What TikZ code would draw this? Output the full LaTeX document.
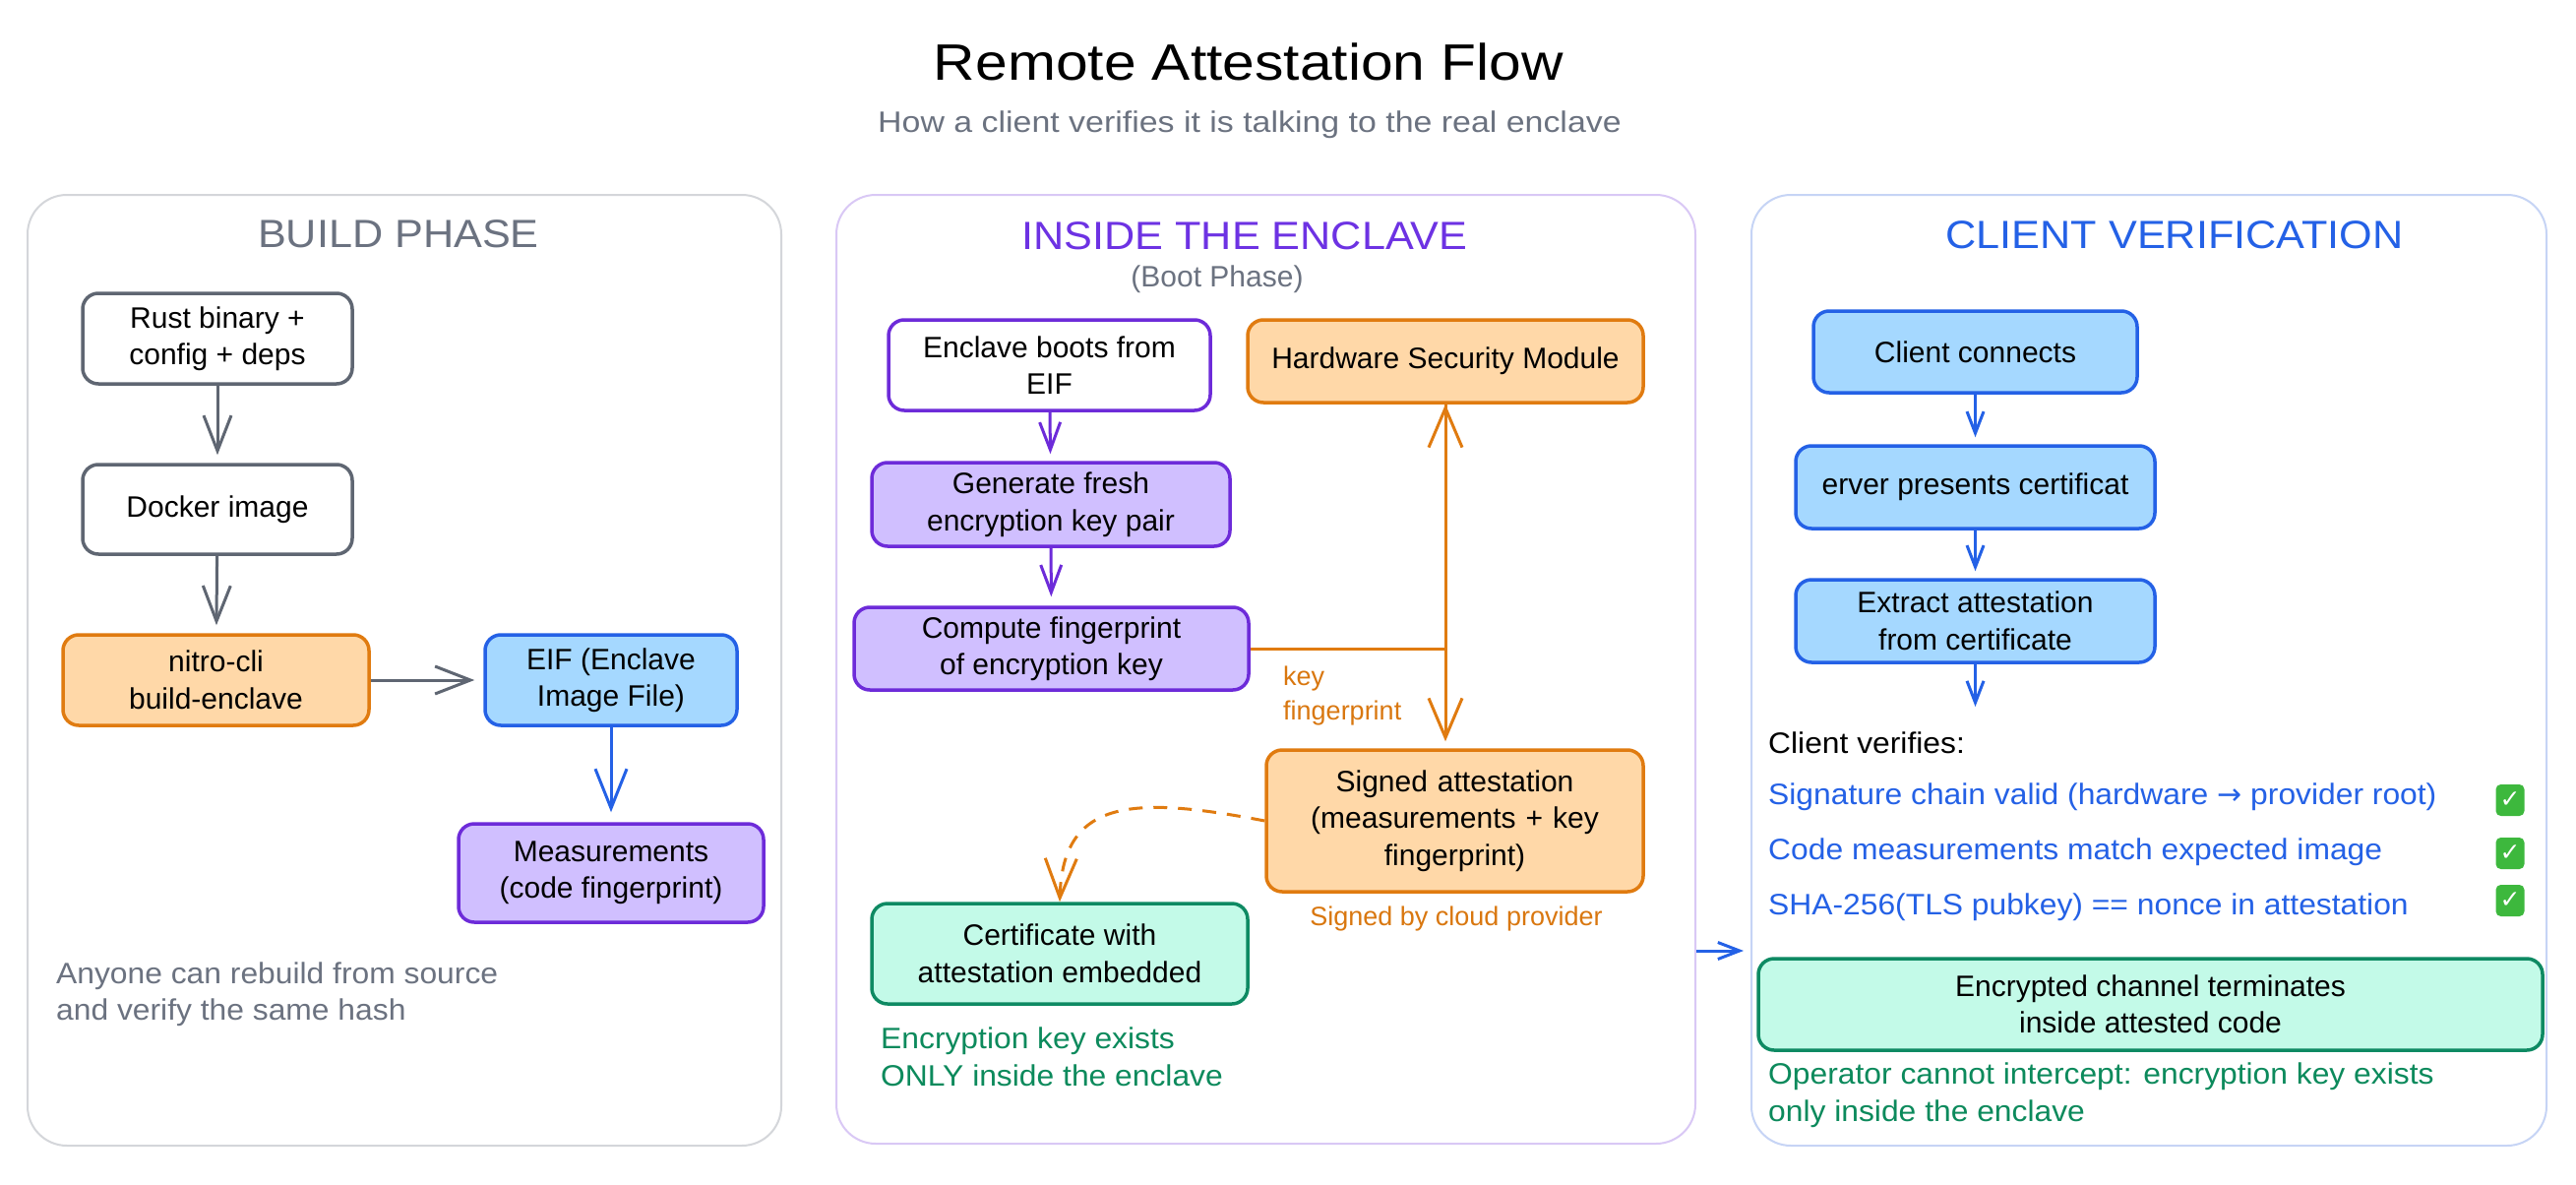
\documentclass[tikz,border=0pt]{standalone}
\usepackage{fontspec}
\setmainfont{Liberation Sans}
\newfontfamily\symfont{DejaVu Sans}
\newfontfamily\widefont[FakeStretch=1.13]{Liberation Sans}
\newfontfamily\notefont[FakeStretch=1.06]{Liberation Sans}
\newfontfamily\headfont[FakeStretch=1.08]{Liberation Sans}
\usetikzlibrary{arrows.meta,calc}
\definecolor{gborder}{HTML}{5F6672}
\definecolor{gtext}{HTML}{6B7280}
\definecolor{obord}{HTML}{E07B10}
\definecolor{ofill}{HTML}{FFD8A8}
\definecolor{bbord}{HTML}{2461E6}
\definecolor{bfill}{HTML}{A5D8FF}
\definecolor{pbord}{HTML}{6D2BD9}
\definecolor{pfill}{HTML}{D0BFFF}
\definecolor{gbord}{HTML}{0E8A63}
\definecolor{gfill}{HTML}{C3FAE8}
\definecolor{gtxt}{HTML}{0C8A5C}
\definecolor{otxt}{HTML}{D9770F}
\definecolor{pone}{HTML}{D4D6DA}
\definecolor{ptwo}{HTML}{D9C8F5}
\definecolor{pthree}{HTML}{C6D4F5}
\definecolor{ptitle}{HTML}{6D32E3}
\definecolor{btitle}{HTML}{2461E6}
\definecolor{chk}{HTML}{3DB83D}
\newcommand\bxf{\fontsize{30}{37.5}\selectfont}
\newcommand\ntf{\notefont\fontsize{30}{37.5}\selectfont}
\newcommand\smf{\fontsize{27}{35}\selectfont}
\begin{document}
\begin{tikzpicture}[x=1pt,y=-1pt,
  panel/.style={line width=2pt, rounded corners=40pt, fill=white, inner sep=0pt},
  box/.style={draw, line width=3.5pt, rounded corners=16pt, align=center, inner sep=0pt, font=\bxf, text=black},
  graybox/.style={box, draw=gborder, fill=white},
  orangebox/.style={box, draw=obord, fill=ofill},
  bluebox/.style={box, draw=bbord, fill=bfill},
  purplebox/.style={box, draw=pbord, fill=pfill},
  purplewhite/.style={box, draw=pbord, fill=white},
  greenbox/.style={box, draw=gbord, fill=gfill},
  note/.style={inner sep=0pt, align=left, font=\ntf, anchor=west},
  ptitlestyle/.style={inner sep=0pt, font=\headfont\fontsize{40}{48}\selectfont},
  chkbox/.style={fill=chk, rounded corners=5pt, minimum width=29pt, minimum height=32pt, inner sep=0pt, text=white, font=\symfont\fontsize{25}{26}\selectfont\bfseries},
  garr/.style={draw=gborder, line width=3pt, -{Straight Barb[length=36pt,width=28pt]}},
  barr/.style={draw=bbord, line width=3pt, -{Straight Barb[length=22pt,width=17pt]}},
  parr/.style={draw=pbord, line width=3pt, -{Straight Barb[length=28pt,width=21pt]}},
  oarr/.style={draw=obord, line width=3pt, -{Straight Barb[length=40pt,width=34pt]}}
]
\useasboundingbox (0,0) rectangle (2618,1204);

% panels
\node[panel, draw=pone, minimum width=766pt, minimum height=966pt] (p1) at (411,681) {};
\node[panel, draw=ptwo, minimum width=873pt, minimum height=964pt] (p2) at (1286.5,680) {};
\node[panel, draw=pthree, minimum width=808pt, minimum height=966pt] (p3) at (2184,681) {};

% titles
\node[inner sep=0pt, font=\widefont\fontsize{52}{60}\selectfont] (title) at (1269,63) {Remote Attestation Flow};
\node[inner sep=0pt, text=gtext, font=\widefont\fontsize{30}{34}\selectfont] (subtitle) at (1270,127) {How a client verifies it is talking to the real enclave};

\node[ptitlestyle, text=gtext] (t1) at (405,238) {BUILD PHASE};
\node[ptitlestyle, text=ptitle] (t2) at (1265,240) {INSIDE THE ENCLAVE};
\node[inner sep=0pt, text=gtext, font=\bxf] (t2b) at (1237,284) {(Boot Phase)};
\node[ptitlestyle, text=btitle] (t3) at (2210,239) {CLIENT VERIFICATION};

% build phase
\node[graybox, minimum width=274pt, minimum height=92pt] (rust) at (221,344) {Rust binary +\\config + deps};
\node[graybox, minimum width=274pt, minimum height=91pt] (docker) at (221,517.5) {Docker image};
\node[orangebox, minimum width=311pt, minimum height=92pt] (nitro) at (219.5,691) {nitro-cli\\build-enclave};
\node[bluebox, minimum width=256pt, minimum height=92pt] (eif) at (621,691) {EIF (Enclave\\Image File)};
\node[purplebox, minimum width=310pt, minimum height=100pt] (meas) at (621,887) {Measurements\\(code fingerprint)};
\node[note, text=gtext] (n1) at (57,1010) {Anyone can rebuild from source\\and verify the same hash};

\draw[garr, shorten >=8pt] (rust) -- (docker);
\draw[garr, shorten >=8pt] (docker) -- (nitro);
\draw[garr, shorten >=9pt] (nitro) -- (eif);
\draw[draw=bbord, line width=3pt, -{Straight Barb[length=40pt,width=32pt]}, shorten >=10pt] (eif) -- (meas);

% enclave
\node[purplewhite, minimum width=327pt, minimum height=92pt] (boots) at (1066.5,371) {Enclave boots from\\EIF};
\node[orangebox, minimum width=402pt, minimum height=84pt] (hsm) at (1469,367) {Hardware Security Module};
\node[purplebox, minimum width=364pt, minimum height=85pt] (gen) at (1068,512.5) {Generate fresh\\encryption key pair};
\node[purplebox, minimum width=401pt, minimum height=84pt] (comp) at (1068.5,659) {Compute fingerprint\\of encryption key};
\node[orangebox, minimum width=383pt, minimum height=144pt, text width=360pt] (signed) at (1478.5,834) {Signed attestation\\(measurements + key\\fingerprint)};
\node[greenbox, minimum width=382pt, minimum height=102pt] (cert) at (1077,969) {Certificate with\\attestation embedded};
\node[inner sep=0pt, align=left, anchor=west, text=otxt, font=\smf] (kf) at (1304,707) {key\\fingerprint};
\node[inner sep=0pt, text=otxt, font=\fontsize{27}{30}\selectfont] (sbc) at (1480,934) {Signed by cloud provider};
\node[note, text=gtxt] (n2) at (895,1074) {Encryption key exists\\ONLY inside the enclave};

\draw[parr, shorten >=7pt] (boots) -- (gen);
\draw[parr, shorten >=9pt] (gen) -- (comp);
\draw[oarr] (comp.east) -| (hsm.south);
\draw[oarr, shorten >=7pt] (hsm.south) -- (hsm.south |- signed.north);
\draw[draw=obord, line width=3pt, dash pattern=on 14pt off 11pt, -{Straight Barb[length=40pt,width=32pt]}]
  (signed.west) .. controls (1150,808) and (1080,812) .. (cert.north);

% client
\node[bluebox, minimum width=329pt, minimum height=83pt] (client) at (2007.5,357.5) {Client connects};
\node[bluebox, minimum width=365pt, minimum height=84pt] (server) at (2007.5,495) {erver presents certificat};
\node[bluebox, minimum width=365pt, minimum height=84pt] (extract) at (2007.5,631) {Extract attestation\\from certificate};
\coordinate (vend) at (2007.5,718);
\node[note, text=black] (cv) at (1797,755) {Client verifies:};
\node[note, text=bbord] (i1) at (1797,810) {Signature chain valid (hardware {\symfont →} provider root)};
\node[note, text=bbord] (i2) at (1797,866) {Code measurements match expected image};
\node[note, text=bbord] (i3) at (1797,922) {SHA-256(TLS pubkey) == nonce in attestation};
\node[chkbox] (c1) at (2551,813) {✓};
\node[chkbox] (c2) at (2551,867) {✓};
\node[chkbox] (c3) at (2551,915) {✓};
\node[greenbox, minimum width=797pt, minimum height=93pt] (chan) at (2185.5,1020.5) {Encrypted channel terminates\\inside attested code};
\node[note, text=gtxt] (n3) at (1797,1112.5) {Operator cannot intercept: encryption key exists\\only inside the enclave};

\draw[barr, shorten >=7pt] (client) -- (server);
\draw[barr, shorten >=7pt] (server) -- (extract);
\draw[barr] (extract) -- (vend);

\coordinate (m1) at (1724,966);
\coordinate (m2) at (1772,966);
\draw[barr] (m1) -- (m2);
\end{tikzpicture}
\end{document}
